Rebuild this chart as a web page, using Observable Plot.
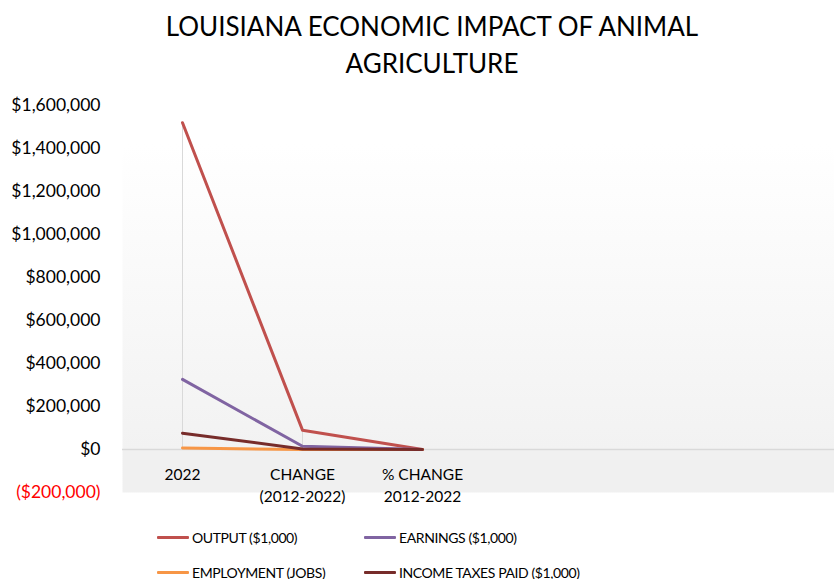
<!DOCTYPE html>
<html>
<head>
<meta charset="utf-8">
<script src="https://cdn.jsdelivr.net/npm/d3@7"></script>
<script src="https://cdn.jsdelivr.net/npm/@observablehq/plot@0.6"></script>
<style>
  body { margin: 0; background: #fff; font-family: Lato, "Open Sans", sans-serif; }
  #wrap { width: 834px; height: 579px; overflow: hidden; position: relative; }
  #title { height: 92px; box-sizing: border-box; padding-top: 8px; text-align: center;
           font-size: 26px; line-height: 37px; color: #000; padding-left: 30px; }
  #chart svg { display: block; }
  #legend { display: grid; grid-template-columns: 207px auto; grid-auto-rows: 35px;
            padding-left: 157px; padding-top: 10px; font-size: 14px; letter-spacing: -0.4px; color: #000; }
  .item { display: flex; align-items: center; white-space: nowrap; }
  .sw { width: 32px; height: 3px; margin-right: 3px; border-radius: 1px; }
</style>
</head>
<body>
<div id="wrap">
  <div id="title">LOUISIANA ECONOMIC IMPACT OF ANIMAL<br>AGRICULTURE</div>
  <div id="chart"></div>
  <div id="legend"></div>
</div>
<script>
// ---- data ----
const categories = ["2022", "CHANGE (2012-2022)", "% CHANGE 2012-2022"];
const categoryLabels = ["2022", "CHANGE\n(2012-2022)", "% CHANGE\n2012-2022"];
const seriesNames = ["OUTPUT ($1,000)", "EARNINGS ($1,000)", "EMPLOYMENT (JOBS)", "INCOME TAXES PAID ($1,000)"];
const seriesColors = ["#c0504d", "#8064a2", "#f79646", "#772c2a"];
const output = [1520000, 90000, 6];
const earnings = [326000, 15000, 5];
const employment = [6500, -400, -6];
const incomeTaxes = [76000, 2500, 3];
const yTicks = [-200000, 0, 200000, 400000, 600000, 800000, 1000000, 1200000, 1400000, 1600000];

const seriesValues = [output, earnings, employment, incomeTaxes];
const table = [];
seriesNames.forEach((s, si) => {
  categories.forEach((c, ci) => table.push({series: s, category: c, value: seriesValues[si][ci]}));
});
const maxByCat = categories.map((c, ci) => d3.max(seriesValues, v => v[ci]));
const fmt = d3.format("($,");

const chart = Plot.plot({
  width: 834,
  height: 418,
  marginTop: 13,
  marginBottom: 18,
  marginLeft: 122,
  marginRight: 0,
  style: {fontFamily: "Lato, 'Open Sans', sans-serif", background: "transparent"},
  x: {type: "point", domain: categories, range: [182, 422], padding: 0, axis: null},
  y: {domain: [-200000, 1600000], axis: null, label: null},
  color: {domain: seriesNames, range: seriesColors},
  marks: [
    Plot.frame({fill: "url(#plotBg)", stroke: "none"}),
    Plot.ruleX(categories, {x: d => d, y1: () => 0, y2: (d, i) => maxByCat[i], stroke: "#d9d9d9", strokeWidth: 1}),
    Plot.ruleY([0], {stroke: "#d9d9d9", strokeWidth: 1.5}),
    Plot.line(table, {x: "category", y: "value", z: "series", stroke: "series", strokeWidth: 3, strokeLinejoin: "round"}),
    Plot.axisY(yTicks.filter(v => v >= 0), {tickSize: 0, tickPadding: 22, tickFormat: fmt, fontSize: 17.5, fill: "#000", label: null}),
    Plot.axisY(yTicks.filter(v => v < 0), {tickSize: 0, tickPadding: 22, tickFormat: fmt, fontSize: 17.5, fill: "#ff0000", label: null}),
    Plot.text(categories, {x: d => d, y: () => 0, text: (d, i) => categoryLabels[i], lineAnchor: "top", dy: 15,
      lineHeight: 1.4, fontSize: 15.5, fill: "#000"})
  ]
});

// gradient background for plot area
const ns = "http://www.w3.org/2000/svg";
const defs = document.createElementNS(ns, "defs");
const grad = document.createElementNS(ns, "linearGradient");
grad.setAttribute("id", "plotBg");
grad.setAttribute("x1", "0"); grad.setAttribute("y1", "0");
grad.setAttribute("x2", "0"); grad.setAttribute("y2", "1");
[["0", "#ffffff"], ["0.1", "#ffffff"], ["0.889", "#f2f2f2"], ["0.889", "#f0f0f0"], ["1", "#f0f0f0"]].forEach(([o, c]) => {
  const st = document.createElementNS(ns, "stop");
  st.setAttribute("offset", o); st.setAttribute("stop-color", c);
  grad.appendChild(st);
});
defs.appendChild(grad);
chart.insertBefore(defs, chart.firstChild);
document.getElementById("chart").appendChild(chart);

// legend
const legend = document.getElementById("legend");
seriesNames.forEach((s, i) => {
  const it = document.createElement("div");
  it.className = "item";
  it.innerHTML = `<span class="sw" style="background:${seriesColors[i]}"></span><span>${s}</span>`;
  legend.appendChild(it);
});
</script>
</body>
</html>
